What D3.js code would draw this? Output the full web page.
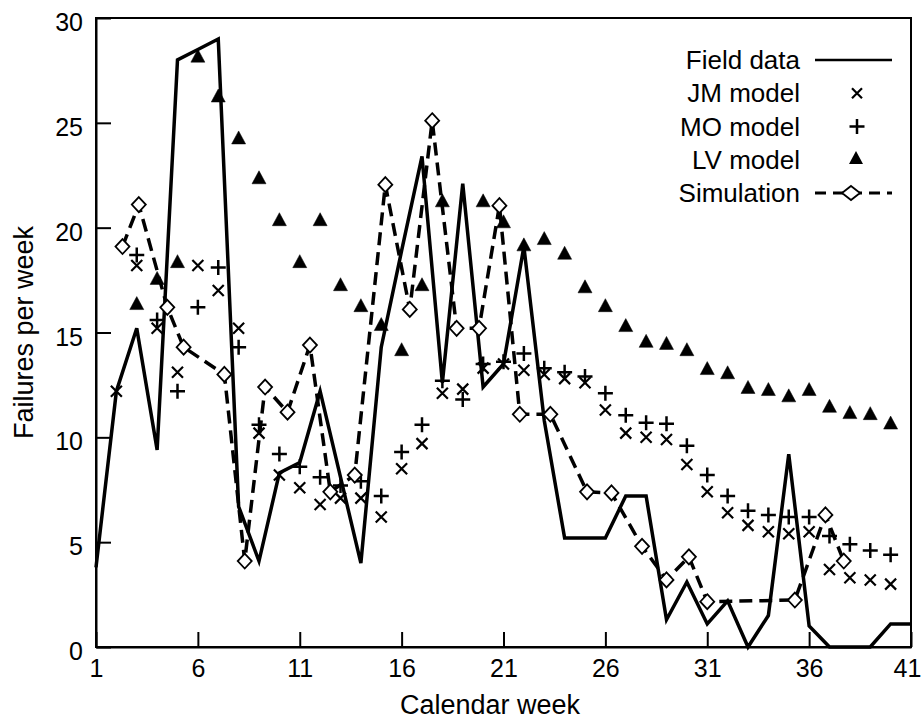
<!DOCTYPE html>
<html>
  <head>
    <title>Failures per week</title>
    <meta charset="utf-8">
    <script src="https://d3js.org/d3.v7.min.js"></script>
    <style type="text/css">
      body { margin: 0; background: #fff; }
      #chart text {
        font-family: "Liberation Sans", Arial, Helvetica, sans-serif;
        fill: #000;
      }
      #chart .tick line, #chart .domain { stroke: #000; stroke-width: 2; }
    </style>
  </head>
  <body>
    <svg id="chart" width="923" height="720"></svg>
    <script>
      // weeks 1..41
      var weeks = d3.range(1, 42);
      var xTicks = [1, 6, 11, 16, 21, 26, 31, 36, 41];
      var yTicks = [0, 5, 10, 15, 20, 25, 30];

      var fieldData = [3.8, 12.2, 15.2, 9.4, 28.0, 28.5, 29.0, 6.7, 4.1, 8.3,
                       8.8, 12.2, 8.1, 4.0, 14.3, 18.9, 23.4, 12.6, 22.1, 12.4,
                       13.5, 19.1, 10.8, 5.2, 5.2, 5.2, 7.2, 7.2, 1.3, 3.1,
                       1.1, 2.2, 0, 1.5, 9.2, 1.0, 0, 0, 0, 1.1, 1.1];
      var jmModel = [null, 12.2, 18.2, 15.2, 13.1, 18.2, 17.0, 15.2, 10.2, 8.2,
                     7.6, 6.8, 7.1, 7.1, 6.2, 8.5, 9.7, 12.1, 12.3, 13.3,
                     13.5, 13.2, 13.0, 12.8, 12.6, 11.3, 10.2, 10.0, 9.9, 8.7,
                     7.4, 6.4, 5.8, 5.5, 5.4, 5.5, 3.7, 3.3, 3.2, 3.0, null];
      var moModel = [null, null, 18.7, 15.6, 12.2, 16.2, 18.1, 14.3, 10.6, 9.2,
                     8.6, 8.1, 7.7, 7.9, 7.2, 9.3, 10.6, 12.7, 11.8, 13.5,
                     13.6, 14.0, 13.3, 13.1, 12.9, 12.1, 11.05, 10.7, 10.65, 9.6,
                     8.2, 7.2, 6.5, 6.3, 6.2, 6.2, 5.3, 4.9, 4.6, 4.4, null];
      var lvModel = [null, null, 16.3, 17.5, 18.3, 28.1, 26.2, 24.2, 22.3, 20.3,
                     18.3, 20.3, 17.2, 16.2, 15.3, 14.1, 17.2, 21.2, null, 21.2,
                     20.2, 19.1, 19.4, 18.7, 17.1, 16.2, 15.25, 14.5, 14.4, 14.1,
                     13.2, 13.0, 12.3, 12.2, 11.9, 12.2, 11.4, 11.1, 11.05, 10.6, null];
      // simulation points sit between calendar weeks
      var simWeeks = [2.3, 3.1, 4.5, 5.3, 7.3, 8.3, 9.3, 10.4, 11.5, 12.5,
                      13.7, 15.2, 16.4, 17.5, 18.7, 19.8, 20.8, 21.8, 23.3, 25.1,
                      26.3, 27.8, 29.0, 30.1, 31.0, 35.3, 36.8, 37.7];
      var simValues = [19.1, 21.1, 16.2, 14.3, 13.0, 4.1, 12.4, 11.2, 14.4, 7.4,
                       8.2, 22.05, 16.1, 25.1, 15.2, 15.2, 21.05, 11.1, 11.1, 7.4,
                       7.35, 4.8, 3.2, 4.3, 2.16, 2.24, 6.3, 4.1];

      var legendLabels = ["Field data", "JM model", "MO model", "LV model", "Simulation"];

      var plotLeft = 96, plotRight = 911, plotTop = 18, plotBottom = 647;

      var x = d3.scaleLinear().domain([1, 41]).range([plotLeft, plotRight]);
      var y = d3.scaleLinear().domain([0, 30]).range([plotBottom, plotTop]);

      var svg = d3.select("#chart");

      function pairs(vals) {
        return weeks.map(function(w, i) { return [w, vals[i]]; });
      }

      // axes, ticks drawn inward
      var xAxis = svg.append("g")
          .attr("transform", "translate(0," + plotBottom + ")")
          .call(d3.axisBottom(x).tickValues(xTicks).tickSizeInner(-15).tickSizeOuter(0).tickPadding(12));
      xAxis.selectAll("text").style("font-size", "25px")
          .attr("dx", function(d) { return d === 41 ? "-4" : null; });

      var yAxis = svg.append("g")
          .attr("transform", "translate(" + plotLeft + ",0)")
          .call(d3.axisLeft(y).tickValues(yTicks).tickSizeInner(-15).tickSizeOuter(0).tickPadding(13));
      yAxis.selectAll("text").style("font-size", "25px").attr("dy", "0.5em");

      svg.append("rect")
          .attr("x", plotLeft).attr("y", plotTop)
          .attr("width", plotRight - plotLeft).attr("height", plotBottom - plotTop)
          .attr("fill", "none").attr("stroke", "#000").attr("stroke-width", 2);

      svg.append("text")
          .attr("x", 490).attr("y", 714)
          .attr("text-anchor", "middle")
          .style("font-size", "27px")
          .text("Calendar week");

      svg.append("text")
          .attr("transform", "translate(33," + (plotTop + plotBottom) / 2 + ") rotate(-90)")
          .attr("text-anchor", "middle")
          .style("font-size", "27px")
          .text("Failures per week");

      var line = d3.line()
          .defined(function(d) { return d[1] != null; })
          .x(function(d) { return x(d[0]); })
          .y(function(d) { return y(d[1]); });

      var plot = svg.append("g");

      plot.append("path")
          .datum(pairs(fieldData))
          .attr("d", line)
          .attr("fill", "none").attr("stroke", "#000")
          .attr("stroke-width", 3.5).attr("stroke-linejoin", "miter");

      var simPoints = simWeeks.map(function(w, i) { return [w, simValues[i]]; });
      plot.append("path")
          .datum(simPoints)
          .attr("d", line)
          .attr("fill", "none").attr("stroke", "#000")
          .attr("stroke-width", 3.5).attr("stroke-dasharray", "13,7");

      // marker shapes
      function crossPath(s) {
        return "M" + (-s) + "," + (-s) + "L" + s + "," + s + "M" + (-s) + "," + s + "L" + s + "," + (-s);
      }
      function plusPath(s) {
        return "M" + (-s) + ",0L" + s + ",0M0," + (-s) + "L0," + s;
      }
      function trianglePath(w, h) {
        return "M0," + (-h * 2 / 3) + "L" + (w / 2) + "," + (h / 3) + "L" + (-w / 2) + "," + (h / 3) + "Z";
      }
      function diamondPath(w, h) {
        return "M0," + (-h / 2) + "L" + (w / 2) + ",0L0," + (h / 2) + "L" + (-w / 2) + ",0Z";
      }

      function drawMarkers(data, d, fill, sw) {
        plot.append("g").selectAll("path")
            .data(data.filter(function(p) { return p[1] != null; }))
            .enter().append("path")
              .attr("transform", function(p) { return "translate(" + x(p[0]) + "," + y(p[1]) + ")"; })
              .attr("d", d)
              .attr("fill", fill)
              .attr("stroke", "#000")
              .attr("stroke-width", sw);
      }

      drawMarkers(pairs(jmModel), crossPath(5.5), "none", 2.2);
      drawMarkers(pairs(moModel), plusPath(7.5), "none", 2.5);
      drawMarkers(pairs(lvModel), trianglePath(14, 13), "#000", 0.5);
      drawMarkers(simPoints, diamondPath(14, 15), "#fff", 1.8);

      // legend
      var legend = svg.append("g");
      var rowY = d3.scalePoint().domain(legendLabels).range([60, 193]);
      legend.selectAll("text")
          .data(legendLabels)
          .enter().append("text")
            .attr("x", 800)
            .attr("y", function(d) { return rowY(d) + 9; })
            .attr("text-anchor", "end")
            .style("font-size", "26px")
            .text(function(d) { return d; });

      legend.append("line")
          .attr("x1", 815).attr("x2", 892)
          .attr("y1", rowY("Field data")).attr("y2", rowY("Field data"))
          .attr("stroke", "#000").attr("stroke-width", 2.5);
      legend.append("path")
          .attr("transform", "translate(857," + rowY("JM model") + ")")
          .attr("d", crossPath(5)).attr("stroke", "#000").attr("stroke-width", 2.2);
      legend.append("path")
          .attr("transform", "translate(857," + rowY("MO model") + ")")
          .attr("d", plusPath(7.5)).attr("stroke", "#000").attr("stroke-width", 2.5);
      legend.append("path")
          .attr("transform", "translate(856," + rowY("LV model") + ")")
          .attr("d", trianglePath(14, 13)).attr("fill", "#000");
      legend.append("line")
          .attr("x1", 815).attr("x2", 892)
          .attr("y1", rowY("Simulation")).attr("y2", rowY("Simulation"))
          .attr("stroke", "#000").attr("stroke-width", 3).attr("stroke-dasharray", "11,7");
      legend.append("path")
          .attr("transform", "translate(851," + rowY("Simulation") + ")")
          .attr("d", diamondPath(18, 14)).attr("fill", "#fff").attr("stroke", "#000").attr("stroke-width", 1.8);
    </script>
  </body>
</html>
